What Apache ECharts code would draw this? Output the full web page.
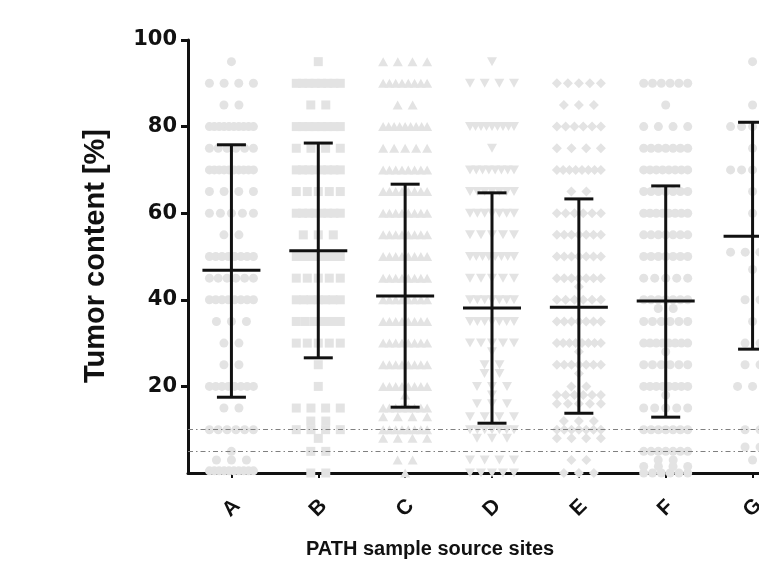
<!DOCTYPE html>
<html>
<head>
<meta charset="utf-8">
<script src="https://cdn.jsdelivr.net/npm/echarts@6/dist/echarts.min.js"></script>
<style>html,body{margin:0;padding:0;background:#fff}#c{width:759px;height:570px}</style>
</head>
<body>
<div id="c"></div>
<script>
// ---- data ----
const categories = ['A', 'B', 'C', 'D', 'E', 'F', 'G'];
const means = [46.8, 51.3, 40.9, 38.1, 38.3, 39.7, 54.7];
const upper = [75.8, 76.2, 66.7, 64.7, 63.3, 66.3, 81.0];
const lower = [17.5, 26.6, 15.2, 11.5, 13.8, 12.9, 28.6];
const yTicks = [20, 40, 60, 80, 100];
const refLines = [10, 5];

// individual samples: [value, number of points in that row]
const dotsA = [[95,1],[90,4],[85,2],[80,10],[75,6],[70,10],[65,4],[60,5],[55,2],[50,8],[45,6],[40,8],[35,3],[30,2],[25,2],[20,8],[15,2],[10,6],[5,1],[3,3],[0.5,10]];
const dotsB = [[95,1],[90,8],[85,2],[80,8],[75,4],[70,8],[65,5],[60,8],[55,3],[50,8],[45,5],[40,7],[35,6],[30,5],[25,1],[20,1],[15,4],[12,2],[10,4],[8,1],[5,2],[0,2]];
const dotsC = [[95,4],[90,8],[85,2],[80,9],[75,5],[70,8],[65,8],[60,8],[55,8],[50,8],[45,8],[40,8],[35,8],[30,8],[25,8],[20,8],[18,1],[15,8],[13,4],[10,8],[8,4],[3,2],[0,1]];
const dotsD = [[95,1],[90,4],[80,9],[75,1],[70,8],[65,7],[60,7],[55,5],[50,8],[45,5],[40,7],[35,7],[30,5],[28,1],[25,2],[23,2],[20,3],[18,1],[16,3],[13,4],[10,7],[8,3],[3,4],[0,5]];
const dotsE = [[90,5],[85,3],[80,6],[75,4],[70,8],[65,2],[60,6],[55,7],[50,7],[45,7],[43,1],[40,6],[35,7],[30,8],[28,1],[25,7],[23,1],[20,2],[18,6],[16,5],[12,3],[10,7],[8,4],[3,2],[0,3]];
const dotsF = [[90,6],[85,1],[80,4],[75,7],[70,8],[65,7],[60,8],[55,7],[50,7],[45,5],[40,7],[38,2],[35,6],[30,8],[28,1],[25,6],[20,8],[18,1],[15,5],[10,7],[5,7],[3,2],[1.5,4],[0,6]];
const dotsG = [[95,1],[85,1],[80,5],[75,1],[70,5],[65,1],[60,1],[51,4],[47,1],[40,2],[35,1],[30,2],[25,2],[20,3],[10,2],[6,2],[3,1]];
const allDots = [dotsA, dotsB, dotsC, dotsD, dotsE, dotsF, dotsG];

// ---- styling ----
const symbols = ['circle', 'rect', 'triangle', 'path://M0,0 L10,0 L5,9 Z', 'diamond', 'circle', 'circle'];
const symbolSizes = [9, 9, [10, 9], [10, 9], [10, 10], 9, 9];
const dotColor = '#e3e3e3';
const ink = '#111';
const font = '"Liberation Sans", Arial, Helvetica, sans-serif';
const gridLeft = 188, gridWidth = 608, gridTop = 40, gridBottom = 97;
const bandPx = gridWidth / categories.length;

// row layout (beeswarm-like spreading inside each category band)
function rowPoints(ci, v, n) {
  const step = n > 1 ? Math.min(15, 44 / (n - 1)) : 0;
  const pts = [];
  for (let k = 0; k < n; k++) {
    pts.push([ci + (k - (n - 1) / 2) * step / bandPx, v]);
  }
  return pts;
}

const scatterSeries = allDots.map((rows, ci) => {
  let data = [];
  rows.forEach(r => { data = data.concat(rowPoints(ci, r[0], r[1])); });
  return {
    type: 'scatter', xAxisIndex: 1, yAxisIndex: 0,
    symbol: symbols[ci], symbolSize: symbolSizes[ci],
    itemStyle: { color: dotColor, opacity: 1 },
    silent: true, z: 2, data: data
  };
});

const errData = categories.map((c, i) => [i, means[i], upper[i], lower[i]]);

const chart = echarts.init(document.getElementById('c'), null, { renderer: 'canvas' });
chart.setOption({
  animation: false,
  backgroundColor: '#fff',
  grid: { left: gridLeft, width: gridWidth, top: gridTop, bottom: gridBottom, containLabel: false, outerBoundsMode: 'none' },
  xAxis: [{
    type: 'category', data: categories, boundaryGap: true,
    axisLine: { show: true, onZero: false, lineStyle: { color: ink, width: 3 } },
    axisTick: { show: true, alignWithLabel: true, length: 5, lineStyle: { color: ink, width: 2 } },
    axisLabel: { rotate: 45, margin: 35, align: 'center', verticalAlign: 'middle', color: ink, fontFamily: font, fontWeight: 'bold', fontSize: 21 },
    splitLine: { show: false }
  }, {
    type: 'value', min: -0.5, max: categories.length - 0.5, show: false
  }],
  yAxis: [{
    type: 'value', min: 0, max: 100, interval: 20,
    axisLine: { show: true, onZero: false, lineStyle: { color: ink, width: 3 } },
    axisTick: { show: true, length: 7, customValues: yTicks, lineStyle: { color: ink, width: 3 } },
    axisLabel: { customValues: yTicks, margin: 11, color: ink, fontFamily: '"DejaVu Sans", Arial, sans-serif', fontWeight: 'bold', fontSize: 21 },
    splitLine: { show: false }
  }],
  graphic: [{
    type: 'text', x: 96, y: 256, rotation: Math.PI / 2,
    style: { text: 'Tumor content [%]', fill: ink, font: 'bold 29px ' + font, textAlign: 'center', textVerticalAlign: 'middle' }
  }, {
    type: 'text', x: 430, y: 549,
    style: { text: 'PATH sample source sites', fill: ink, font: 'bold 20px ' + font, textAlign: 'center', textVerticalAlign: 'middle' }
  }],
  series: scatterSeries.concat([{
    type: 'line', xAxisIndex: 1, yAxisIndex: 0, data: [], silent: true,
    markLine: {
      silent: true, symbol: 'none', label: { show: false },
      lineStyle: { color: '#808080', width: 1, type: [5, 3, 1.5, 3] },
      data: refLines.map(v => ({ yAxis: v }))
    }
  }, {
    type: 'custom', xAxisIndex: 0, yAxisIndex: 0, z: 5, silent: true,
    data: errData,
    renderItem: function (params, api) {
      const ci = api.value(0);
      const pm = api.coord([ci, api.value(1)]);
      const pu = api.coord([ci, api.value(2)]);
      const pl = api.coord([ci, api.value(3)]);
      const x = pm[0];
      const st = { stroke: ink, lineWidth: 3 };
      const capHalf = 14.5, meanHalf = 29;
      return {
        type: 'group',
        children: [
          { type: 'line', shape: { x1: x, y1: pu[1], x2: x, y2: pl[1] }, style: st },
          { type: 'line', shape: { x1: x - capHalf, y1: pu[1], x2: x + capHalf, y2: pu[1] }, style: st },
          { type: 'line', shape: { x1: x - capHalf, y1: pl[1], x2: x + capHalf, y2: pl[1] }, style: st },
          { type: 'line', shape: { x1: x - meanHalf, y1: pm[1], x2: x + meanHalf, y2: pm[1] }, style: st }
        ]
      };
    }
  }])
});
</script>
</body>
</html>
